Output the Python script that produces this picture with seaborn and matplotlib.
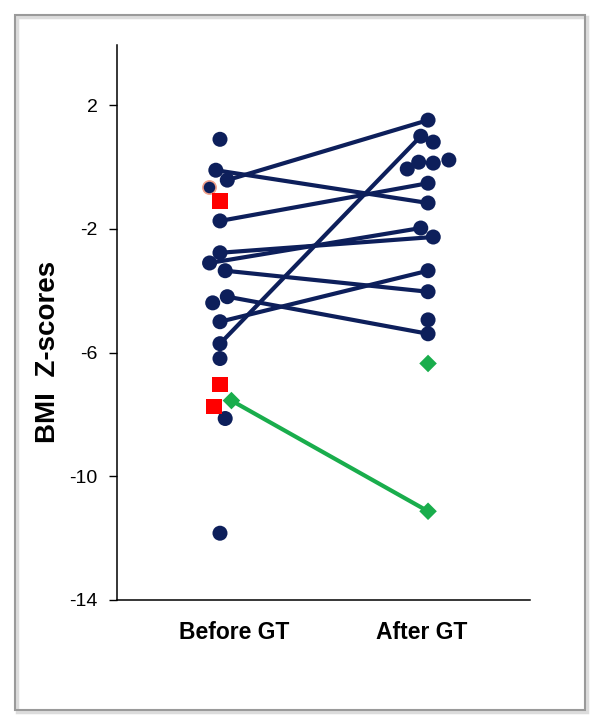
import matplotlib
matplotlib.use("Agg")
import matplotlib.pyplot as plt
from matplotlib.patches import Rectangle
import pandas as pd
import seaborn as sns

# BMI z-scores; *_dx are the small sideways shifts of the dots
categories = ["Before GT", "After GT"]

paired_before = [-0.10, -0.42, -1.74, -2.77, -3.10, -3.35, -4.19, -5.00, -5.71]
paired_before_dx = [-0.02, 0.035, 0.0, 0.0, -0.05, 0.025, 0.035, 0.0, 0.0]
paired_after = [-1.16, 1.52, -0.52, -2.26, -1.97, -4.03, -5.39, -3.35, 1.00]
paired_after_dx = [0.0, 0.0, 0.0, 0.025, -0.035, 0.0, 0.0, 0.0, -0.035]

single_before = [0.90, -4.39, -6.19, -8.13, -11.84]
single_before_dx = [0.0, -0.035, 0.0, 0.025, 0.0]
single_after = [0.81, -0.06, 0.16, 0.13, 0.23, -4.94]
single_after_dx = [0.025, -0.10, -0.045, 0.025, 0.10, 0.0]

faded_before = [-0.65]
faded_before_dx = [-0.055]

red_before = [-1.10, -7.03, -7.74]
red_before_dx = [0.0, 0.0, -0.03]

green_before = [-7.55]
green_before_dx = [0.055]
green_after = [-11.13, -6.35]
green_after_dx = [0.0, 0.0]

yticks = [2, -2, -6, -10, -14]

navy = "#0d1f5b"
red = "#ff0000"
green = "#19ad4c"

# pairs joined by a line
rows = []
for i, (b, bdx, a, adx) in enumerate(zip(paired_before, paired_before_dx, paired_after, paired_after_dx)):
    rows.append({"subject": i, "x": 0 + bdx, "z": b})
    rows.append({"subject": i, "x": 1 + adx, "z": a})
lines = pd.DataFrame(rows)

green_line = pd.DataFrame({"x": [0 + green_before_dx[0], 1 + green_after_dx[0]],
                           "z": [green_before[0], green_after[0]]})

# all dots
pts = []
for z, dx in zip(paired_before + single_before, paired_before_dx + single_before_dx):
    pts.append({"x": 0 + dx, "z": z, "kind": "circle"})
for z, dx in zip(paired_after + single_after, paired_after_dx + single_after_dx):
    pts.append({"x": 1 + dx, "z": z, "kind": "circle"})
for z, dx in zip(red_before, red_before_dx):
    pts.append({"x": 0 + dx, "z": z, "kind": "square"})
for z, dx in zip(green_before, green_before_dx):
    pts.append({"x": 0 + dx, "z": z, "kind": "diamond"})
for z, dx in zip(green_after, green_after_dx):
    pts.append({"x": 1 + dx, "z": z, "kind": "diamond"})
pts = pd.DataFrame(pts)

faded = pd.DataFrame({"x": [0 + d for d in faded_before_dx], "z": faded_before})

sns.set_style("ticks")
plt.rcParams["font.family"] = ["Liberation Sans", "DejaVu Sans"]
plt.rcParams["text.color"] = "black"
plt.rcParams["axes.labelcolor"] = "black"
plt.rcParams["xtick.color"] = "black"
plt.rcParams["ytick.color"] = "black"

fig = plt.figure(figsize=(6, 7.19), dpi=100)
fig.patches.append(Rectangle((17 / 600, 1 - 712 / 719), 570 / 600, 695 / 719,
                             transform=fig.transFigure, fill=False,
                             edgecolor="#dcdcdc", lw=2.5, zorder=0))
fig.patches.append(Rectangle((15 / 600, 1 - 710 / 719), 570 / 600, 695 / 719,
                             transform=fig.transFigure, fill=False,
                             edgecolor="#9a9a9a", lw=1.5, zorder=1))

ax = fig.add_axes([117 / 600, 1 - 600 / 719, 413 / 600, 555 / 719])

sns.lineplot(data=lines, x="x", y="z", units="subject", estimator=None, sort=False,
             color=navy, lw=3, ax=ax, zorder=2)
sns.lineplot(data=green_line, x="x", y="z", estimator=None, sort=False,
             color=green, lw=3, ax=ax, zorder=2)

sns.scatterplot(data=faded, x="x", y="z", color=navy, s=90, edgecolor="#f0a08a",
                linewidth=1.2, ax=ax, zorder=3, legend=False)
sns.scatterplot(data=pts, x="x", y="z", hue="kind", style="kind", size="kind",
                palette={"circle": navy, "square": red, "diamond": green},
                markers={"circle": "o", "square": "s", "diamond": "D"},
                sizes={"circle": 117, "square": 128, "diamond": 80},
                linewidth=0, ax=ax, zorder=4, legend=False)

ax.set_xlim(-0.495, 1.49)
ax.set_ylim(-14, 3.95)
ax.set_yticks(yticks)
ax.set_yticklabels([str(t) for t in yticks])
ax.set_xticks([0.067, 0.971])
ax.set_xticklabels(categories, fontsize=16.5, fontweight="bold")
ax.tick_params(axis="x", length=0, pad=15)
ax.tick_params(axis="y", length=6, width=1, pad=8, labelsize=14)
ax.set_xlabel("")
ax.set_ylabel("BMI  Z-scores", fontsize=20, fontweight="bold")
ax.yaxis.set_label_coords(-0.135, 0.447)

for side in ["top", "right"]:
    ax.spines[side].set_visible(False)
for side in ["left", "bottom"]:
    ax.spines[side].set_color("black")
    ax.spines[side].set_linewidth(1.1)

fig.savefig("out.png", dpi=100)
